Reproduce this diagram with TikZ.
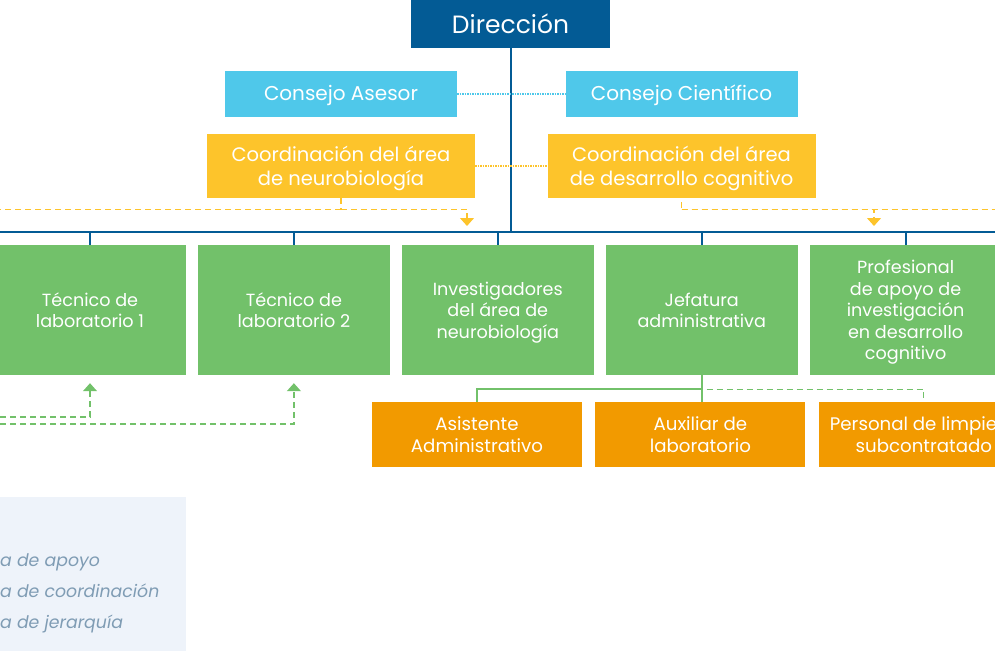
\documentclass[tikz,border=0pt]{standalone}
\usepackage{fontspec}
\setmainfont{Poppins}
\usetikzlibrary{arrows.meta,positioning}

\definecolor{dirblue}{HTML}{035B95}
\definecolor{consejo}{HTML}{4FC8EA}
\definecolor{coord}{HTML}{FDC42B}
\definecolor{staff}{HTML}{72C16A}
\definecolor{soporte}{HTML}{F29A00}
\definecolor{legendbg}{HTML}{EEF3FA}
\definecolor{legendtxt}{HTML}{7F9CB4}

\tikzset{
  unit/.style={rectangle, inner sep=0pt, align=center, text=white},
  dirbox/.style={unit, fill=dirblue, minimum width=199pt, minimum height=48pt,
    font=\fontsize{25}{28}\selectfont, text height=20pt, text depth=0.6pt},
  consbox/.style={unit, fill=consejo, minimum width=232pt, minimum height=46pt,
    font=\fontsize{20}{23}\selectfont, text height=14pt, text depth=0.6pt},
  coordbox/.style={unit, fill=coord, minimum width=268pt, minimum height=64pt,
    font=\fontsize{19.5}{24.5}\selectfont, text depth=-3pt},
  staffbox/.style={unit, fill=staff, minimum width=192pt, minimum height=130pt,
    font=\fontsize{17.6}{21.4}\selectfont, text depth=-6pt},
  supbox/.style={unit, fill=soporte, minimum width=210pt, minimum height=65pt,
    font=\fontsize{18.2}{21.5}\selectfont, text depth=-0.6pt},
  hier/.style={draw=dirblue, line width=2pt},
  mando/.style={draw=staff, line width=2pt},
  dotblue/.style={draw=consejo, line width=2pt, dash pattern=on 1.5pt off 1pt},
  dotyel/.style={draw=coord, line width=2pt, dash pattern=on 1.5pt off 1pt},
  apoyoy/.style={draw=coord, line width=1.2pt, dash pattern=on 6pt off 4pt},
  apoyog/.style={draw=staff, line width=1.2pt, dash pattern=on 6pt off 4pt},
  tip/.style={-{Triangle[width=14pt,length=8pt]}},
  legtext/.style={anchor=base west, inner sep=0pt, text=legendtxt,
    font=\fontsize{17.3}{20}\selectfont\itshape}
}

\begin{document}
\begin{tikzpicture}[x=1pt,y=-1pt]
\useasboundingbox (0,0) rectangle (995,650);
\clip (0,0) rectangle (995,650);

\fill[legendbg] (-20,497) rectangle (186,660);
\node[legtext] (lapoyo) at (0,566) {a de apoyo};
\node[legtext] (lcoord) at (0,597) {a de coordinación};
\node[legtext] (ljer) at (0,628) {a de jerarquía};

\node[dirbox] (dir) at (510.5,24) {Dirección};
\node[consbox] (asesor) at (341,94) {Consejo Asesor};
\node[consbox] (cient) at (681.5,94) {Consejo Científico};
\node[coordbox] (cneuro) at (341,166) {Coordinación del área\\de neurobiología};
\node[coordbox] (cdes) at (681.5,166) {Coordinación del área\\de desarrollo cognitivo};

\node[staffbox] (tec1) at (90,310) {Técnico de\\laboratorio 1};
\node[staffbox, right=11.5pt of tec1] (tec2) {Técnico de\\laboratorio 2};
\node[staffbox, right=11.5pt of tec2] (inv) {Investigadores\\del área de\\neurobiología};
\node[staffbox, right=11.5pt of inv] (jef) {Jefatura\\administrativa};
\node[staffbox, right=11.5pt of jef] (prof) {Profesional\\de apoyo de\\investigación\\en desarrollo\\cognitivo};

\node[supbox] (asis) at (477,434.5) {Asistente\\Administrativo};
\node[supbox, right=13pt of asis] (aux) {Auxiliar de\\laboratorio};
\node[supbox, right=13pt of aux] (pers) {Personal de limpieza\\subcontratado};

\coordinate (busW) at (-10,232);
\coordinate (busE) at (1005,232);
\draw[hier] (busW) -- (busE);
\draw[hier] (dir.south) -- (dir.south |- busW);
\foreach \n in {tec1,tec2,inv,jef,prof}
  \draw[hier] (\n.north) -- (\n.north |- busW);

\draw[dotblue] (asesor.east) -- (cient.west);
\draw[dotyel] (cneuro.east) -- (cdes.west);

\coordinate (ntip) at (467,226);
\coordinate (dtip) at (874,226);
\draw[apoyoy] (cneuro.south) -- ++(0,11) coordinate (nj);
\draw[apoyoy] (nj) -- (nj -| busW);
\draw[apoyoy, tip] (nj) -| (ntip);
\draw[apoyoy] ([yshift=-4pt]cdes.south) -- ++(0,7) coordinate (dj);
\draw[apoyoy] (dj) -- (dj -| busE);
\draw[apoyoy, tip] (dj) -| (dtip);

\coordinate (g1) at (-10,417);
\coordinate (g2) at (-10,424);
\draw[apoyog, tip, shorten >=8pt] (g1) -| (tec1.south);
\draw[apoyog, tip, shorten >=8pt] (g2) -| (tec2.south);

\draw[mando] (jef.south) -- (jef.south |- aux.north);
\path (jef.south) ++(0,14) coordinate (jb);
\draw[mando] (jb) -| (asis.north);
\draw[apoyog] ([xshift=5pt]jb) -| (pers.north);
\end{tikzpicture}
\end{document}
